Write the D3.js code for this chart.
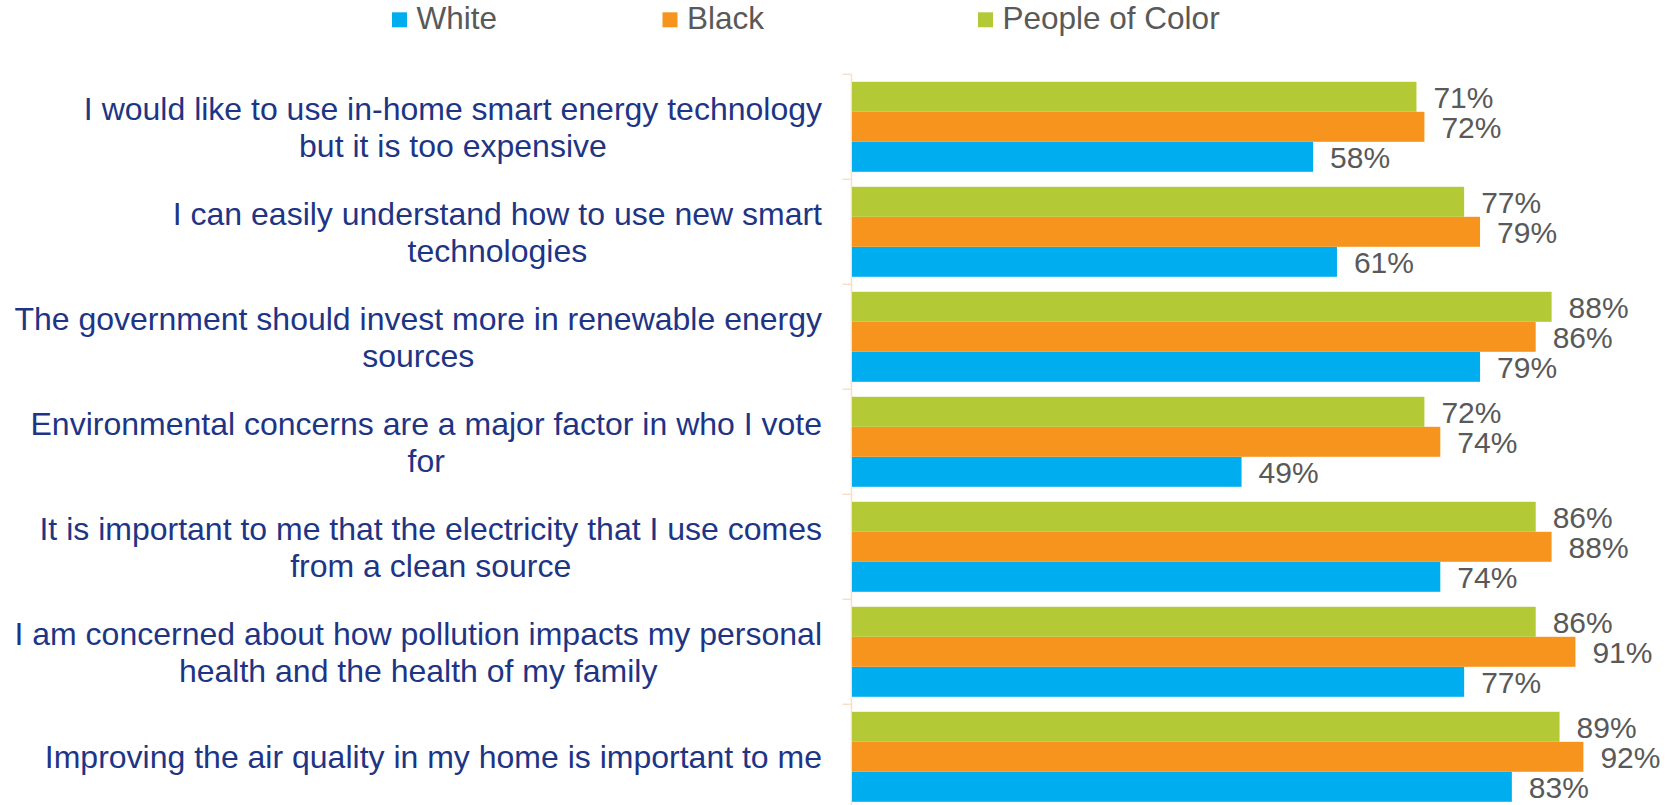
<!DOCTYPE html>
<html>
<head>
<meta charset="utf-8">
<script src="https://cdn.jsdelivr.net/npm/d3@7"></script>
<style>
  html, body { margin: 0; padding: 0; background: #ffffff; }
  svg { display: block; }
  text { font-family: Arial, "Liberation Sans", sans-serif; }
</style>
</head>
<body>
<svg id="chart" width="1670" height="805"></svg>
<script>
// Survey statements (line breaks mark where each label wraps)
const categories = [
  "I would like to use in-home smart energy technology\nbut it is too expensive",
  "I can easily understand how to use new smart\ntechnologies",
  "The government should invest more in renewable energy\nsources",
  "Environmental concerns are a major factor in who I vote\nfor",
  "It is important to me that the electricity that I use comes\nfrom a clean source",
  "I am concerned about how pollution impacts my personal\nhealth and the health of my family",
  "Improving the air quality in my home is important to me"
];

// Share agreeing, in percent
const whiteValues = [58, 61, 79, 49, 74, 77, 83];
const blackValues = [72, 79, 86, 74, 88, 91, 92];
const pocValues   = [71, 77, 88, 72, 86, 86, 89];

const seriesNames  = ["White", "Black", "People of Color"];
const seriesColors = ["#00AEEF", "#F7941D", "#B3C935"];

const series = [
  { name: seriesNames[0], color: seriesColors[0], values: whiteValues },
  { name: seriesNames[1], color: seriesColors[1], values: blackValues },
  { name: seriesNames[2], color: seriesColors[2], values: pocValues }
];
// Within each group the bars run People of Color, Black, White from top to bottom
const barOrder = [seriesNames[2], seriesNames[1], seriesNames[0]];

const svg = d3.select("#chart");

const axisX = 851.5;
const plotTop = 74.3;
const step = 105;

const x = d3.scaleLinear().domain([0, 100]).range([852, 1647]);

const y0 = d3.scaleBand()
  .domain(d3.range(categories.length))
  .range([plotTop, plotTop + step * categories.length])
  .paddingInner(1 / 7)
  .paddingOuter(1 / 14);

const y1 = d3.scaleBand()
  .domain(barOrder)
  .range([0, y0.bandwidth()]);

// Category axis: vertical rule plus tick marks between groups
const axisColor = "#F9DFC6";
svg.append("line")
  .attr("x1", axisX).attr("x2", axisX)
  .attr("y1", plotTop).attr("y2", 805)
  .attr("stroke", axisColor).attr("stroke-width", 1.5);

svg.append("g").selectAll("line")
  .data(d3.range(categories.length + 1))
  .join("line")
  .attr("x1", axisX - 9).attr("x2", axisX)
  .attr("y1", i => plotTop + i * y0.step())
  .attr("y2", i => plotTop + i * y0.step())
  .attr("stroke", axisColor).attr("stroke-width", 1.5);

// Bars and value labels
const groups = svg.append("g").selectAll("g")
  .data(categories.map((c, i) => i))
  .join("g")
  .attr("transform", i => `translate(0,${y0(i)})`);

groups.each(function (i) {
  const g = d3.select(this);
  const rows = series.map(s => ({ name: s.name, color: s.color, value: s.values[i] }));
  g.selectAll("rect")
    .data(rows)
    .join("rect")
    .attr("x", x(0))
    .attr("y", d => y1(d.name))
    .attr("width", d => x(d.value) - x(0))
    .attr("height", y1.bandwidth())
    .attr("fill", d => d.color);
  g.selectAll("text")
    .data(rows)
    .join("text")
    .attr("x", d => x(d.value) + 17)
    .attr("y", d => y1(d.name) + y1.bandwidth() / 2 + 10.8)
    .attr("font-size", 30)
    .attr("fill", "#595959")
    .text(d => d.value + "%");
});

// Category labels: lines centred on each other, block right-aligned to the axis
const labelRight = 822;
const lineGap = 36.5;
categories.forEach((label, i) => {
  const lines = label.split("\n");
  const cy = y0(i) + y0.bandwidth() / 2;
  const t = svg.append("text")
    .attr("font-size", 32)
    .attr("fill", "#1E3585")
    .attr("text-anchor", "middle");
  const spans = lines.map((ln, k) => t.append("tspan")
    .attr("y", cy + (k - (lines.length - 1) / 2) * lineGap + 11.5)
    .text(ln));
  const widest = d3.max(spans, s => s.node().getComputedTextLength());
  spans.forEach(s => s.attr("x", labelRight - widest / 2));
});

// Legend
const legendX = [392, 662.5, 978];
const legend = svg.append("g").selectAll("g")
  .data(series)
  .join("g")
  .attr("transform", (d, i) => `translate(${legendX[i]},0)`);
legend.append("rect")
  .attr("x", 0).attr("y", 12.3)
  .attr("width", 15).attr("height", 15)
  .attr("fill", d => d.color);
legend.append("text")
  .attr("x", 24.5).attr("y", 29)
  .attr("font-size", 31.5)
  .attr("fill", "#595959")
  .text(d => d.name);
</script>
</body>
</html>
